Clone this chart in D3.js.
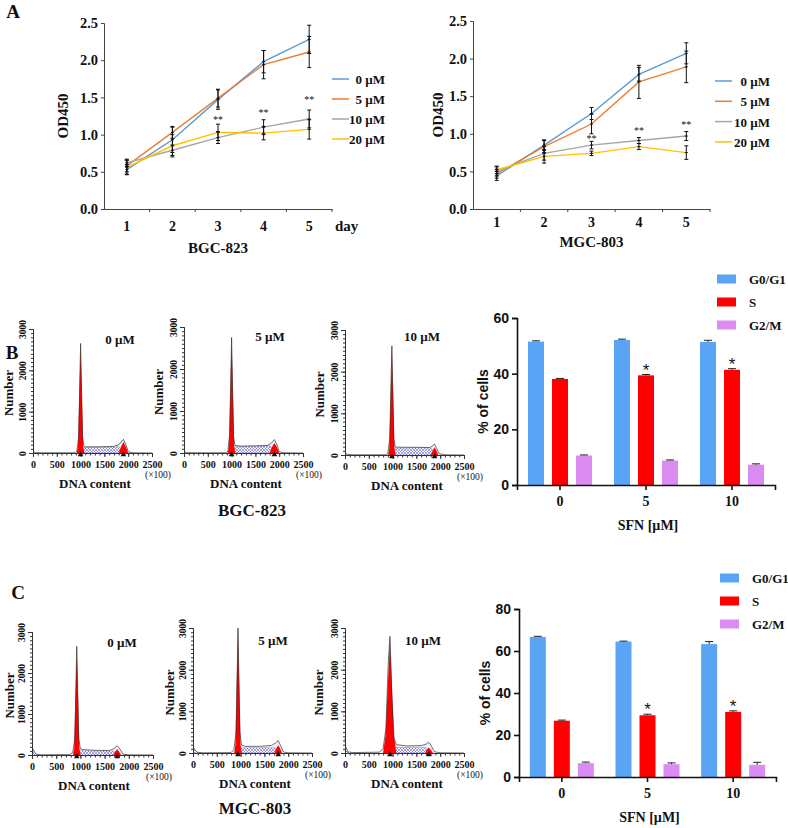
<!DOCTYPE html>
<html><head><meta charset="utf-8">
<script src="https://cdn.jsdelivr.net/npm/d3@7/dist/d3.min.js"></script>
<style>body{margin:0;background:#fff}svg{display:block}</style>
</head><body>
<svg id="c" width="788" height="828"></svg>
<script>
// ---------- DATA ----------
// Panel A: CCK-8 growth curves (OD450)
const days = [1, 2, 3, 4, 5];
const doseLabels = ["0 µM", "5 µM", "10 µM", "20 µM"];
const odTicks = [0, 0.5, 1.0, 1.5, 2.0, 2.5];
const starDays = [3, 4, 5];

const bgc0 = [0.53, 0.93, 1.47, 1.98, 2.28];
const bgc5 = [0.58, 1.03, 1.49, 1.94, 2.11];
const bgc10 = [0.62, 0.79, 0.96, 1.10, 1.21];
const bgc20 = [0.56, 0.85, 1.03, 1.02, 1.07];
const bgc0Err = [0.07, 0.17, 0.13, 0.15, 0.19];
const bgc5Err = [0.08, 0.08, 0.12, 0.19, 0.21];
const bgc10Err = [0.05, 0.07, 0.08, 0.10, 0.12];
const bgc20Err = [0.09, 0.15, 0.11, 0.09, 0.13];

const mgc0 = [0.44, 0.85, 1.27, 1.79, 2.07];
const mgc5 = [0.47, 0.83, 1.13, 1.69, 1.89];
const mgc10 = [0.50, 0.74, 0.85, 0.91, 0.97];
const mgc20 = [0.52, 0.70, 0.74, 0.83, 0.75];
const mgc0Err = [0.06, 0.07, 0.08, 0.09, 0.14];
const mgc5Err = [0.06, 0.08, 0.13, 0.22, 0.21];
const mgc10Err = [0.06, 0.09, 0.05, 0.04, 0.06];
const mgc20Err = [0.05, 0.09, 0.03, 0.04, 0.09];

// Panels B/C: cell cycle distribution
const phases = ["G0/G1", "S", "G2/M"];
const sfnDoses = ["0", "5", "10"];
const bgcG1 = [51.5, 52.1, 51.4], bgcG1Err = [0.3, 0.3, 0.6];
const bgcS = [38.1, 39.4, 41.4], bgcSErr = [0.2, 0.3, 0.4];
const bgcG2M = [10.6, 8.8, 7.3], bgcG2MErr = [0.2, 0.2, 0.3];
const mgcG1 = [66.7, 64.5, 63.3], mgcG1Err = [0.3, 0.2, 1.2];
const mgcS = [26.8, 29.4, 31.0], mgcSErr = [0.3, 0.5, 0.5];
const mgcG2M = [6.6, 6.1, 5.8], mgcG2MErr = [0.5, 0.6, 1.2];
const bgcBarTicks = [0, 20, 40, 60];
const mgcBarTicks = [0, 20, 40, 60, 80];
const starDoses = ["5", "10"];

// Flow cytometry histograms: [DNA content (x100), number]
const histXTicks = [0, 500, 1000, 1500, 2000, 2500];
const histYTicks = [0, 1000, 2000, 3000];
const histTitles = ["0 µM", "5 µM", "10 µM"];

const bgcH0Env = [[0,30],[60,10],[150,5],[880,5],[920,40],[960,400],[1000,2650],[1040,400],[1070,170],[1100,150],[1400,150],[1700,160],[1800,200],[1900,330],[1960,180],[2000,30],[2100,5],[2500,0]];
const bgcH0G1 = [[920,0],[945,150],[1000,2600],[1055,150],[1080,0]];
const bgcH0G2 = [[1800,0],[1850,150],[1900,265],[1950,150],[2000,0]];
const bgcH0S = [[1040,0],[1070,130],[1300,140],[1600,145],[1800,150],[1880,80],[1930,0]];

const bgcH5Env = [[0,40],[50,10],[150,5],[880,5],[920,40],[960,450],[1000,2750],[1040,400],[1070,180],[1200,165],[1500,170],[1750,180],[1830,230],[1900,320],[1960,180],[2000,30],[2100,5],[2500,0]];
const bgcH5G1 = [[920,0],[945,160],[1000,2700],[1055,160],[1080,0]];
const bgcH5G2 = [[1800,0],[1850,140],[1900,240],[1950,140],[2000,0]];
const bgcH5S = [[1040,0],[1070,150],[1300,155],[1600,165],[1800,170],[1880,90],[1930,0]];

const bgcH10Env = [[0,60],[40,20],[150,5],[860,5],[900,40],[940,400],[985,2620],[1025,400],[1055,190],[1200,185],[1500,185],[1780,180],[1830,210],[1880,265],[1930,150],[1980,30],[2100,5],[2500,0]];
const bgcH10G1 = [[905,0],[930,150],[985,2560],[1040,150],[1065,0]];
const bgcH10G2 = [[1800,0],[1845,110],[1880,185],[1920,110],[1960,0]];
const bgcH10S = [[1020,0],[1050,160],[1300,170],[1600,175],[1800,170],[1870,80],[1910,0]];

const mgcH0Env = [[0,190],[30,120],[80,20],[200,5],[780,10],[840,60],[885,400],[925,2650],[965,400],[1000,150],[1050,130],[1300,115],[1600,110],[1700,160],[1760,227],[1820,140],[1880,20],[2000,5],[2500,0]];
const mgcH0G1 = [[845,0],[870,150],[925,2600],[980,150],[1005,0]];
const mgcH0G2 = [[1680,0],[1720,80],[1760,146],[1800,80],[1840,0]];
const mgcH0S = [[960,0],[990,105],[1200,100],[1500,95],[1690,95],[1750,50],[1800,0]];
const mgcH0Deb = [[0,0],[0,190],[30,120],[80,20],[150,0]];

const mgcH5Env = [[0,150],[30,90],[80,20],[200,5],[800,10],[860,80],[905,500],[945,3000],[985,500],[1020,190],[1100,160],[1400,160],[1650,180],[1730,240],[1790,300],[1840,180],[1900,25],[2000,5],[2500,0]];
const mgcH5G1 = [[865,0],[890,180],[945,2950],[1000,180],[1025,0]];
const mgcH5G2 = [[1710,0],[1750,110],[1790,185],[1830,110],[1870,0]];
const mgcH5S = [[980,0],[1010,120],[1300,125],[1600,125],[1720,125],[1780,60],[1830,0]];
const mgcH5Deb = [[0,0],[0,150],[30,90],[80,20],[150,0]];

const mgcH10Env = [[0,350],[15,150],[60,30],[150,10],[720,20],[800,100],[860,600],[910,2200],[945,2800],[985,1300],[1030,350],[1080,200],[1300,170],[1600,180],[1700,210],[1760,260],[1810,180],[1880,30],[2000,5],[2500,0]];
const mgcH10G1 = [[800,0],[850,400],[945,2750],[1030,400],[1080,0]];
const mgcH10G2 = [[1680,0],[1720,80],[1760,130],[1800,80],[1850,0]];
const mgcH10S = [[960,0],[1020,130],[1300,135],[1600,135],[1700,130],[1760,70],[1820,0]];
const mgcH10Deb = [[0,0],[0,350],[15,150],[60,30],[120,0]];

// ---------- STYLE ----------
const SERIF = "'Liberation Serif','Times New Roman',serif";
const SANS = "'Liberation Sans',Arial,sans-serif";
const lineColors = ["#5B9BD5", "#ED7D31", "#A5A5A5", "#FFC000"];
const phaseColors = ["#5AA4F6", "#FF0000", "#DA8CF0"];

const svg = d3.select("#c");
const defs = svg.append("defs");
const pat = defs.append("pattern").attr("id", "hatch").attr("width", 3).attr("height", 3).attr("patternUnits", "userSpaceOnUse");
pat.append("rect").attr("width", 3).attr("height", 3).attr("fill", "#fff");
pat.append("path").attr("d", "M0,0L3,3M3,0L0,3").attr("stroke", "#5a5ad0").attr("stroke-width", 0.55);

function txt(g, x, y, s, size, opts = {}) {
  const t = g.append("text").attr("x", x).attr("y", y).text(s)
    .attr("font-family", opts.family || SERIF).attr("font-size", size)
    .attr("font-weight", opts.weight || "bold").attr("fill", "#111")
    .attr("text-anchor", opts.anchor || "middle");
  if (opts.rotate) t.attr("transform", `rotate(-90,${x},${y})`);
  return t;
}

// ---------- PANEL A ----------
function lineChart(o) {
  const g = svg.append("g");
  const x = d3.scaleBand().domain(days).range([o.x0, o.x1]);
  const y = d3.scaleLinear().domain([0, 2.5]).range([o.y0, o.y1]);
  const bw = x.bandwidth();
  const cx = d => x(d) + bw / 2;

  const ya = g.append("g").attr("transform", `translate(${o.x0},0)`)
    .call(d3.axisLeft(y).tickValues(odTicks).tickFormat(d3.format(".1f")).tickSize(3).tickPadding(3));
  ya.select(".domain").attr("stroke", "#444");
  ya.selectAll("line").attr("stroke", "#444");
  ya.selectAll("text").attr("font-family", SERIF).attr("font-weight", "bold").attr("font-size", 14.5).attr("fill", "#111");

  const xa = g.append("g").attr("transform", `translate(0,${o.y0})`)
    .call(d3.axisBottom(x).tickSize(0).tickPadding(o.xpad));
  xa.select(".domain").attr("stroke", "#444");
  xa.selectAll("text").attr("font-family", SERIF).attr("font-weight", "bold").attr("font-size", 14).attr("fill", "#111");
  g.selectAll(".btick").data(days).join("line")
    .attr("x1", d => x(d) + bw).attr("x2", d => x(d) + bw)
    .attr("y1", o.y0).attr("y2", o.y0 + 3).attr("stroke", "#444");

  const line = d3.line().x((d, i) => cx(days[i])).y(d => y(d));
  o.series.forEach((s, k) => {
    g.append("path").datum(s).attr("d", line).attr("fill", "none")
      .attr("stroke", lineColors[k]).attr("stroke-width", 1.4);
  });
  o.series.forEach((s, k) => {
    const e = o.errs[k];
    s.forEach((v, i) => {
      const xx = cx(days[i]);
      const t = y(v + e[i]), b = y(v - e[i]);
      g.append("line").attr("x1", xx).attr("x2", xx).attr("y1", t).attr("y2", b).attr("stroke", "#111").attr("stroke-width", 1);
      [t, b].forEach(yy => g.append("line").attr("x1", xx - 2).attr("x2", xx + 2).attr("y1", yy).attr("y2", yy).attr("stroke", "#111").attr("stroke-width", 1));
      g.append("line").attr("x1", xx - 1.5).attr("x2", xx + 1.5).attr("y1", y(v)).attr("y2", y(v)).attr("stroke", "#111").attr("stroke-width", 1);
    });
  });
  starDays.forEach(d => {
    const i = days.indexOf(d);
    const top = Math.max(o.series[2][i] + o.errs[2][i], o.series[3][i] + o.errs[3][i]);
    txt(g, cx(d), y(top) - o.starOff[starDays.indexOf(d)] + 5, "**", 10, { weight: "normal" });
  });
  // legend
  doseLabels.forEach((l, k) => {
    const yy = o.legY + k * o.legStep;
    g.append("line").attr("x1", o.legX).attr("x2", o.legX + o.legW).attr("y1", yy).attr("y2", yy)
      .attr("stroke", lineColors[k]).attr("stroke-width", 1.5);
    txt(g, o.legTextX, yy + 5, l, 13, { anchor: "end" });
  });
  txt(g, o.ylabX, (o.y0 + o.y1) / 2, "OD450", 15, { rotate: true });
  txt(g, (o.x0 + o.x1) / 2, o.titleY, o.title, 15);
  if (o.day) txt(g, o.x1 + 3, o.y0 + o.xpad + 10, "day", 15, { anchor: "start" });
}

lineChart({ x0: 104, x1: 332, y0: 209, y1: 23, xpad: 12,
  series: [bgc0, bgc5, bgc10, bgc20], errs: [bgc0Err, bgc5Err, bgc10Err, bgc20Err],
  starOff: [6, 9, 12], legX: 332, legW: 17, legTextX: 385, legY: 79, legStep: 20,
  ylabX: 68, title: "BGC-823", titleY: 253, day: true });
lineChart({ x0: 473, x1: 710, y0: 209, y1: 21, xpad: 8,
  series: [mgc0, mgc5, mgc10, mgc20], errs: [mgc0Err, mgc5Err, mgc10Err, mgc20Err],
  starOff: [4, 9, 9], legX: 715, legW: 17, legTextX: 770, legY: 81, legStep: 20.3,
  ylabX: 443, title: "MGC-803", titleY: 247, day: false });

txt(svg, 13, 18, "A", 19);
txt(svg, 12, 359, "B", 19);
txt(svg, 18, 599, "C", 19);

// ---------- HISTOGRAMS ----------
function histo(o, env, g1, g2, s, deb, title) {
  const g = svg.append("g");
  const x = d3.scaleLinear().domain([0, 2500]).range([o.x0, o.x1]);
  const y = d3.scaleLinear().domain([0, 3000]).range([o.y0, o.y1]);
  const area = d3.area().x(d => x(d[0])).y0(y(0)).y1(d => y(d[1]));
  const line = d3.line().x(d => x(d[0])).y(d => y(d[1]));
  g.append("path").datum(env).attr("d", area).attr("fill", "#f2f2f2");
  if (deb) g.append("path").datum(deb).attr("d", area).attr("fill", "url(#hatch)");
  g.append("path").datum(s).attr("d", area).attr("fill", "url(#hatch)").attr("stroke", "#6a6ab0").attr("stroke-width", 0.4);
  g.append("path").datum(g1).attr("d", area).attr("fill", "#f00");
  g.append("path").datum(g2).attr("d", area).attr("fill", "#f00");
  g.append("path").datum(env).attr("d", line).attr("fill", "none").attr("stroke", "#333").attr("stroke-width", 0.7);

  // axes
  g.append("g").attr("transform", `translate(${o.x0},0)`)
    .call(d3.axisLeft(y).tickValues(d3.range(0, 3001, 100)).tickSize(2).tickFormat(""));
  const ymaj = g.append("g").attr("transform", `translate(${o.x0},0)`)
    .call(d3.axisLeft(y).tickValues(histYTicks).tickSize(4).tickPadding(3).tickFormat(d3.format("d")));
  ymaj.selectAll("text").attr("transform", "rotate(-90)").attr("x", 0).attr("y", -7).attr("dy", 0)
    .attr("text-anchor", "middle").attr("font-family", SERIF).attr("font-weight", "bold").attr("font-size", 9.5).attr("fill", "#111");
  g.append("g").attr("transform", `translate(0,${o.y0})`)
    .call(d3.axisBottom(x).tickValues(d3.range(0, 2501, 100)).tickSize(2.5).tickFormat(""));
  const xmaj = g.append("g").attr("transform", `translate(0,${o.y0})`)
    .call(d3.axisBottom(x).tickValues(histXTicks).tickSize(4).tickPadding(4).tickFormat(d3.format("d")));
  xmaj.selectAll("text").attr("font-family", SERIF).attr("font-weight", "bold").attr("font-size", 10).attr("fill", "#111");
  g.selectAll(".domain").attr("stroke", "#333");
  g.selectAll(".tick line").attr("stroke", "#333");

  // peak markers
  [g1, g2].forEach(p => {
    const pk = p.reduce((a, b) => (b[1] > a[1] ? b : a));
    g.append("path").attr("d", d3.symbol(d3.symbolTriangle, 14)())
      .attr("transform", `translate(${x(pk[0])},${o.y0 + 1.5})`).attr("fill", "#111");
  });

  txt(g, o.tx, o.ty, title, 13);
  txt(g, o.x0 - o.nOff, (o.y0 + o.y1) / 2 + 2, "Number", 13, { rotate: true });
  txt(g, o.x0 + 62, o.y0 + 35, "DNA content", 13);
  txt(g, o.x1 + 6, o.y0 + 25, "(×100)", 9.5, { weight: "normal" });
}

histo({ x0: 33, x1: 152, y0: 453, y1: 329, tx: 120, ty: 344, nOff: 20 }, bgcH0Env, bgcH0G1, bgcH0G2, bgcH0S, null, histTitles[0]);
histo({ x0: 184, x1: 303, y0: 453, y1: 327, tx: 270, ty: 341, nOff: 21 }, bgcH5Env, bgcH5G1, bgcH5G2, bgcH5S, null, histTitles[1]);
histo({ x0: 345, x1: 464, y0: 455, y1: 330, tx: 422, ty: 341, nOff: 21 }, bgcH10Env, bgcH10G1, bgcH10G2, bgcH10S, null, histTitles[2]);
histo({ x0: 32, x1: 153, y0: 755, y1: 632, tx: 122, ty: 647, nOff: 18 }, mgcH0Env, mgcH0G1, mgcH0G2, mgcH0S, mgcH0Deb, histTitles[0]);
histo({ x0: 193, x1: 312, y0: 753, y1: 628, tx: 273, ty: 645, nOff: 19 }, mgcH5Env, mgcH5G1, mgcH5G2, mgcH5S, mgcH5Deb, histTitles[1]);
histo({ x0: 345, x1: 464, y0: 753, y1: 628, tx: 423, ty: 645, nOff: 22 }, mgcH10Env, mgcH10G1, mgcH10G2, mgcH10S, mgcH10Deb, histTitles[2]);

txt(svg, 252, 516, "BGC-823", 17);
txt(svg, 255, 814, "MGC-803", 17);

// ---------- BAR CHARTS ----------
function barChart(o) {
  const g = svg.append("g");
  const x = d3.scaleBand().domain(sfnDoses).range([o.x0, o.x1]).paddingOuter(0);
  const bw = x.bandwidth();
  const xi = d3.scaleBand().domain(phases).range([bw / 2 - 36, bw / 2 + 36]).paddingInner(1 / 3).paddingOuter(1 / 6);
  const y = d3.scaleLinear().domain([0, o.max]).range([o.y0, o.y1]);

  o.vals.forEach((vals, k) => {
    vals.forEach((v, i) => {
      const bx = x(sfnDoses[i]) + xi(phases[k]);
      g.append("rect").attr("x", bx).attr("y", y(v)).attr("width", xi.bandwidth()).attr("height", y(0) - y(v)).attr("fill", phaseColors[k]);
      const cxx = bx + xi.bandwidth() / 2, top = y(v + o.errs[k][i]);
      g.append("line").attr("x1", cxx).attr("x2", cxx).attr("y1", y(v)).attr("y2", top).attr("stroke", "#222").attr("stroke-width", 1);
      g.append("line").attr("x1", cxx - 4).attr("x2", cxx + 4).attr("y1", top).attr("y2", top).attr("stroke", "#222").attr("stroke-width", 1);
    });
  });
  starDoses.forEach(d => {
    const i = sfnDoses.indexOf(d);
    const cxx = x(d) + xi("S") + xi.bandwidth() / 2;
    txt(g, cxx, y(o.vals[1][i] + o.errs[1][i]) - 8 + 9, "*", 17, { family: SANS, weight: "normal" });
  });

  const ya = g.append("g").attr("transform", `translate(${o.x0},0)`)
    .call(d3.axisLeft(y).tickValues(o.ticks).tickSize(5).tickPadding(3));
  ya.selectAll("text").attr("font-family", SANS).attr("font-weight", "bold").attr("font-size", 14).attr("fill", "#111");
  const xa = g.append("g").attr("transform", `translate(0,${o.y0})`)
    .call(d3.axisBottom(x).tickSize(5).tickPadding(6));
  xa.selectAll("text").attr("font-family", SERIF).attr("font-weight", "bold").attr("font-size", 14).attr("fill", "#111");
  g.selectAll(".domain").attr("stroke", "#111").attr("stroke-width", 1.6);
  g.selectAll(".tick line").attr("stroke", "#111").attr("stroke-width", 1.6);

  txt(g, o.x0 - 29, (o.y0 + o.y1) / 2, "% of cells", 14, { family: SANS, rotate: true });
  txt(g, (o.x0 + o.x1) / 2 + 2, o.y0 + 45, "SFN [µM]", 14);

  phases.forEach((p, k) => {
    const yy = o.legY + k * 23;
    g.append("rect").attr("x", o.legX).attr("y", yy - 4.5).attr("width", 19).attr("height", 9).attr("fill", phaseColors[k]);
    txt(g, o.legX + 32, yy + 5, p, 13, { anchor: "start" });
  });
}

barChart({ x0: 517, x1: 775, y0: 485, y1: 318, max: 60, ticks: bgcBarTicks,
  vals: [bgcG1, bgcS, bgcG2M], errs: [bgcG1Err, bgcSErr, bgcG2MErr], legX: 717, legY: 279 });
barChart({ x0: 519, x1: 776, y0: 777, y1: 609, max: 80, ticks: mgcBarTicks,
  vals: [mgcG1, mgcS, mgcG2M], errs: [mgcG1Err, mgcSErr, mgcG2MErr], legX: 720, legY: 578 });
</script>
</body></html>
